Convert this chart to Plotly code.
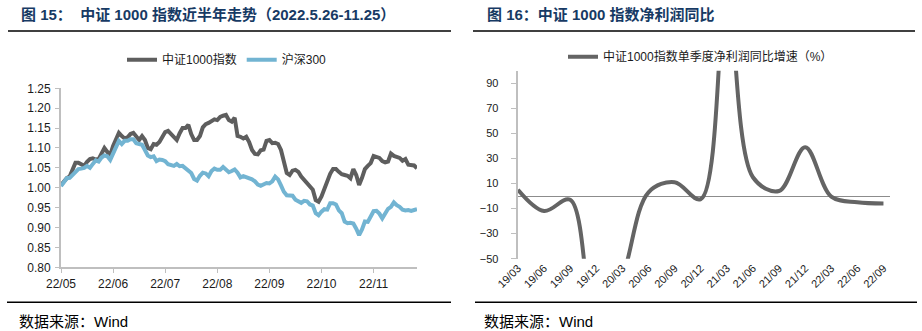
import plotly.graph_objects as go

W, H = 922, 331

# Daily closes of CSI 1000 and CSI 300, normalised to 1 on 2022-05-26
csi1000 = [
    1.007, 1.015, 1.024, 1.028, 1.045, 1.063, 1.063, 1.060, 1.055, 1.065,
    1.072, 1.074, 1.071, 1.072, 1.085, 1.100, 1.090, 1.082, 1.105, 1.122,
    1.138, 1.130, 1.124, 1.127, 1.135, 1.138, 1.128, 1.120, 1.130, 1.120,
    1.100, 1.097, 1.110, 1.108, 1.115, 1.127, 1.140, 1.143, 1.136, 1.130,
    1.120, 1.137, 1.150, 1.150, 1.158, 1.135, 1.120, 1.120, 1.130, 1.152,
    1.160, 1.163, 1.168, 1.172, 1.170, 1.178, 1.181, 1.183, 1.170, 1.166,
    1.176, 1.130, 1.128, 1.124, 1.128, 1.115, 1.095, 1.085, 1.084, 1.094,
    1.096, 1.118, 1.120, 1.112, 1.113, 1.110, 1.095, 1.060, 1.037, 1.032,
    1.043, 1.045, 1.040, 1.028, 1.020, 1.011, 1.003, 0.995, 0.969, 0.965,
    0.978, 0.998, 1.013, 1.035, 1.047, 1.047, 1.040, 1.034, 1.032, 1.030,
    1.024, 1.047, 1.032, 1.007, 1.025, 1.047, 1.055, 1.062, 1.080, 1.078,
    1.075, 1.067, 1.064, 1.066, 1.086, 1.080, 1.078, 1.075, 1.068, 1.072,
    1.058, 1.058, 1.056, 1.049,
]
hs300 = [
    1.004, 1.015, 1.024, 1.025, 1.032, 1.042, 1.047, 1.048, 1.050, 1.055,
    1.050, 1.060, 1.069, 1.066, 1.076, 1.081, 1.079, 1.070, 1.088, 1.103,
    1.118, 1.110, 1.118, 1.118, 1.122, 1.122, 1.112, 1.110, 1.108, 1.095,
    1.081, 1.077, 1.079, 1.067, 1.071, 1.070, 1.067, 1.059, 1.057, 1.055,
    1.060, 1.054, 1.055, 1.050, 1.043, 1.037, 1.022, 1.018, 1.030, 1.038,
    1.036, 1.029, 1.042, 1.048, 1.045, 1.045, 1.052, 1.045, 1.039, 1.042,
    1.046, 1.038, 1.026, 1.029, 1.027, 1.024, 1.021, 1.016, 1.008, 1.005,
    1.008, 1.012, 1.011, 1.016, 1.028, 1.021, 1.006, 0.990, 0.981, 0.981,
    0.980, 0.970, 0.966, 0.962, 0.967, 0.966, 0.958, 0.955, 0.936, 0.931,
    0.940, 0.946, 0.945, 0.961, 0.961, 0.958, 0.943, 0.936, 0.915, 0.911,
    0.912, 0.910, 0.897, 0.881, 0.895, 0.915, 0.914, 0.928, 0.941, 0.942,
    0.935, 0.923, 0.935, 0.947, 0.952, 0.963, 0.956, 0.952, 0.945, 0.943,
    0.944, 0.942, 0.944, 0.946,
]
month_labels = ["22/05", "22/06", "22/07", "22/08", "22/09", "22/10", "22/11"]
month_step = 18  # trading days between month labels

# Quarterly single-quarter net profit growth of the CSI 1000 (%)
quarters = ["19/03", "19/06", "19/09", "19/12", "20/03", "20/06", "20/09", "20/12",
            "21/03", "21/06", "21/09", "21/12", "22/03", "22/06", "22/09"]
profit_yoy = [5, -12, -3, -110, -65, 3, 11, -2.5, 165, 15, 4, 39, -0.5, -5, -6]
profit_ticks = [-50, -30, -10, 10, 30, 50, 70, 90]

GRAY = "#5e5e5e"
BLUE = "#72b4d2"
AXIS = "#bfbfbf"
TITLE = "#173a64"
FONT = "Liberation Sans, Arial, Noto Sans CJK SC, sans-serif"


def px(x):
    return x / W


def py(y):
    return 1 - y / H


idx = list(range(len(csi1000)))
qidx = list(range(len(quarters)))

fig = go.Figure()
fig.add_trace(go.Scatter(x=idx, y=csi1000, mode="lines", name="中证1000指数",
                         line=dict(color=GRAY, width=4), xaxis="x", yaxis="y",
                         legend="legend"))
fig.add_trace(go.Scatter(x=idx, y=hs300, mode="lines", name="沪深300",
                         line=dict(color=BLUE, width=4), xaxis="x", yaxis="y",
                         legend="legend"))
fig.add_trace(go.Scatter(x=qidx, y=profit_yoy, mode="lines",
                         name="中证1000指数单季度净利润同比增速（%）",
                         line=dict(color="#646464", width=4, shape="spline", smoothing=1),
                         xaxis="x2", yaxis="y2", legend="legend2"))

tickfont = dict(family=FONT, size=12, color="#1a1a1a")

fig.update_layout(
    width=W, height=H,
    margin=dict(l=0, r=0, t=0, b=0, autoexpand=False),
    paper_bgcolor="white", plot_bgcolor="white",
    font=dict(family=FONT, size=12, color="#1a1a1a"),
    xaxis=dict(domain=[px(61), px(417)], range=[0, len(csi1000) - 1], anchor="y",
               tickvals=[i * month_step for i in range(len(month_labels))],
               ticktext=month_labels, ticks="outside", ticklen=4, tickcolor=AXIS,
               showline=True, linecolor=AXIS, linewidth=2, showgrid=False,
               zeroline=False, tickfont=tickfont, automargin=False),
    yaxis=dict(domain=[py(267.3), py(88.3)], range=[0.8, 1.25], anchor="x",
               tick0=0.8, dtick=0.05, tickformat=".2f", ticks="outside", ticklen=4,
               tickcolor=AXIS, showline=True, linecolor=AXIS, linewidth=2,
               showgrid=False, zeroline=False, tickfont=tickfont,
               ticklabelstandoff=2, automargin=False),
    xaxis2=dict(domain=[px(517.7), px(890)], range=[-0.01, 14.25], anchor="y2",
                tickvals=qidx, ticktext=quarters, tickangle=-45, ticks="",
                showline=False, showgrid=False, zeroline=False,
                tickfont=dict(family=FONT, size=11, color="#1a1a1a"),
                automargin=False),
    xaxis3=dict(overlaying="x2", anchor="free", position=py(196),
                range=[-0.01, 14.25], tickvals=qidx, showticklabels=False,
                ticks="outside", ticklen=4, tickcolor="#8c8c8c",
                showline=False, showgrid=False, zeroline=False, automargin=False),
    yaxis2=dict(domain=[py(258.7), py(70.7)], range=[-50, 100], anchor="x2",
                tickvals=profit_ticks, ticks="outside", ticklen=5, tickcolor=AXIS,
                showline=True, linecolor=AXIS, linewidth=2, showgrid=False,
                zeroline=True, zerolinecolor="#8c8c8c", zerolinewidth=1,
                tickfont=dict(family=FONT, size=11, color="#1a1a1a"),
                ticklabelstandoff=10, automargin=False),
    legend=dict(orientation="h", x=px(122), xanchor="left", y=py(59.7),
                yanchor="middle", bgcolor="rgba(0,0,0,0)",
                font=dict(family=FONT, size=12, color="#1a1a1a")),
    legend2=dict(orientation="h", x=px(563), xanchor="left", y=py(56.7),
                 yanchor="middle", bgcolor="rgba(0,0,0,0)",
                 font=dict(family=FONT, size=12, color="#1a1a1a")),
    showlegend=True,
)

# Panel titles and sources
titles = [
    (19, "<b>图 15：\u00a0\u00a0中证 1000 指数近半年走势（2022.5.26-11.25）</b>"),
    (485, "<b>图 16：中证 1000 指数净利润同比</b>"),
]
for x0, text in titles:
    fig.add_annotation(x=px(x0), y=py(15), xref="paper", yref="paper",
                       xanchor="left", yanchor="middle", showarrow=False,
                       text=text, font=dict(family=FONT, size=15, color=TITLE))

for x0 in (17, 482):
    fig.add_annotation(x=px(x0), y=py(321), xref="paper", yref="paper",
                       xanchor="left", yanchor="middle", showarrow=False,
                       text="数据来源：Wind",
                       font=dict(family=FONT, size=15, color="#000000"))

# Horizontal rules above and below each panel
for x0, x1 in ((8, 451), (473, 915)):
    fig.add_shape(type="line", xref="paper", yref="paper",
                  x0=px(x0), x1=px(x1), y0=py(31), y1=py(31),
                  line=dict(color="#000000", width=1.5))
for x0, x1 in ((7, 451), (475, 917)):
    fig.add_shape(type="line", xref="paper", yref="paper",
                  x0=px(x0), x1=px(x1), y0=py(302.3), y1=py(302.3),
                  line=dict(color="#000000", width=1.5))

fig.write_html("out.html")
